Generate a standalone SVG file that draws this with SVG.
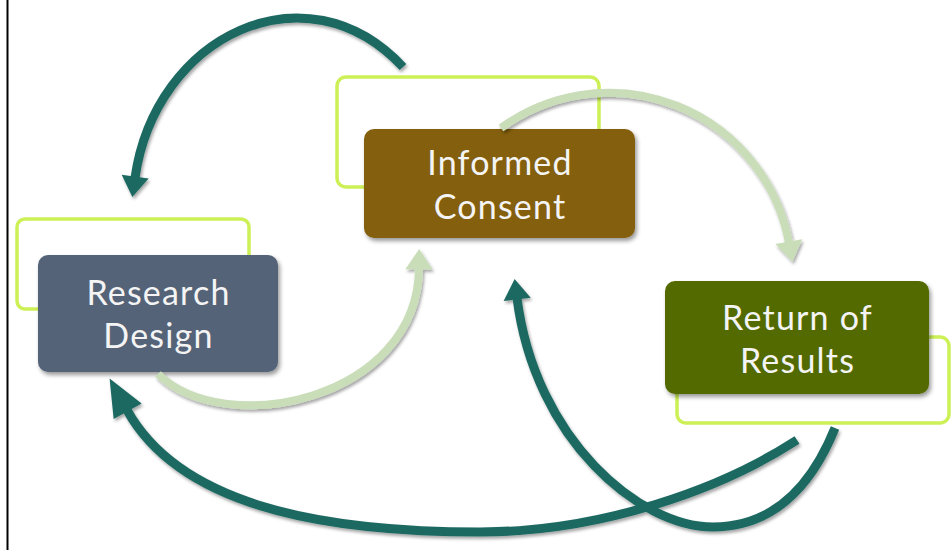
<svg xmlns="http://www.w3.org/2000/svg" width="952" height="550" viewBox="0 0 952 550">
  <defs>
    <style>
      .outline { fill: none; stroke: #ccf055; stroke-width: 3.5; }
      .box { filter: url(#boxShadow); }
      .label { font-family: Lato, "Open Sans", "DejaVu Sans", sans-serif; font-size: 34px; letter-spacing: 1.2px; fill: #f4f4f4; text-anchor: middle; }
      .dark { fill: none; stroke: #1e6962; stroke-width: 9; }
      .light { fill: none; stroke: #c8ddb8; stroke-width: 8; }
    </style>
    <filter id="boxShadow" x="-10%" y="-10%" width="125%" height="130%">
      <feDropShadow dx="2" dy="3" stdDeviation="2.2" flood-color="#000" flood-opacity="0.4"/>
    </filter>
    <filter id="arrowShadow" x="-10%" y="-10%" width="125%" height="130%">
      <feDropShadow dx="1.5" dy="2.5" stdDeviation="1.5" flood-color="#000" flood-opacity="0.35"/>
    </filter>
    <marker id="headDark" markerUnits="userSpaceOnUse" markerWidth="30" markerHeight="30" refX="0" refY="0" viewBox="-1 -11 17 22" orient="auto" overflow="visible">
      <path d="M-1,-10 L14,0 L-1,10 Z" fill="#1e6962"/>
    </marker>
    <marker id="headDarkLong" markerUnits="userSpaceOnUse" markerWidth="40" markerHeight="40" refX="0" refY="0" viewBox="-1 -13 30 26" orient="auto" overflow="visible">
      <path d="M-1,-12 L27,0 L-1,12 Z" fill="#1e6962"/>
    </marker>
    <marker id="headLight" markerUnits="userSpaceOnUse" markerWidth="30" markerHeight="30" refX="0" refY="0" viewBox="-1 -11 17 22" orient="auto" overflow="visible">
      <path d="M-1,-10 L14,0 L-1,10 Z" fill="#c8ddb8"/>
    </marker>
  </defs>

  <rect width="952" height="550" fill="#ffffff"/>
  <line x1="7.5" y1="0" x2="7.5" y2="550" stroke="#000" stroke-width="2"/>

  <g id="node-research-design">
    <rect class="outline" x="17" y="219" width="232" height="90" rx="8"/>
    <rect class="box" x="38" y="255" width="240" height="117" rx="10" fill="#546478"/>
    <text class="label" x="158.5" y="305">Research</text>
    <text class="label" x="158.5" y="348">Design</text>
  </g>

  <g id="node-informed-consent">
    <rect class="outline" x="337" y="77" width="262" height="110" rx="9"/>
    <rect class="box" x="364" y="129" width="271" height="109" rx="10" fill="#845f10"/>
    <text class="label" x="500" y="175">Informed</text>
    <text class="label" x="500" y="219">Consent</text>
  </g>

  <g id="node-return-of-results">
    <rect class="outline" x="677" y="337" width="272" height="86" rx="9"/>
    <rect class="box" x="665" y="281" width="264" height="113" rx="10" fill="#526a00"/>
    <text class="label" x="797.5" y="330">Return of</text>
    <text class="label" x="797.5" y="373">Results</text>
  </g>

  <g id="connectors" filter="url(#arrowShadow)">
    <path id="ic-to-rd" class="dark" d="M403,67 C306,-37 155,36 135,178" marker-end="url(#headDark)"/>
    <path id="ic-to-rr" class="light" d="M501,128 A183,183 0 0 1 789,243" marker-end="url(#headLight)"/>
    <path id="rd-to-ic" class="light" d="M158,374 C225,440 418,400 419,268" marker-end="url(#headLight)"/>
    <path id="rr-to-ic" class="dark" d="M835,428 C810,490 770,527 713,527 C640,527 535,440 517,298" marker-end="url(#headDark)"/>
    <path id="rr-to-rd" class="dark" d="M797,440 C720,490 600,532 480,532 C350,532 185,515 127,410" marker-end="url(#headDarkLong)"/>
  </g>
</svg>
